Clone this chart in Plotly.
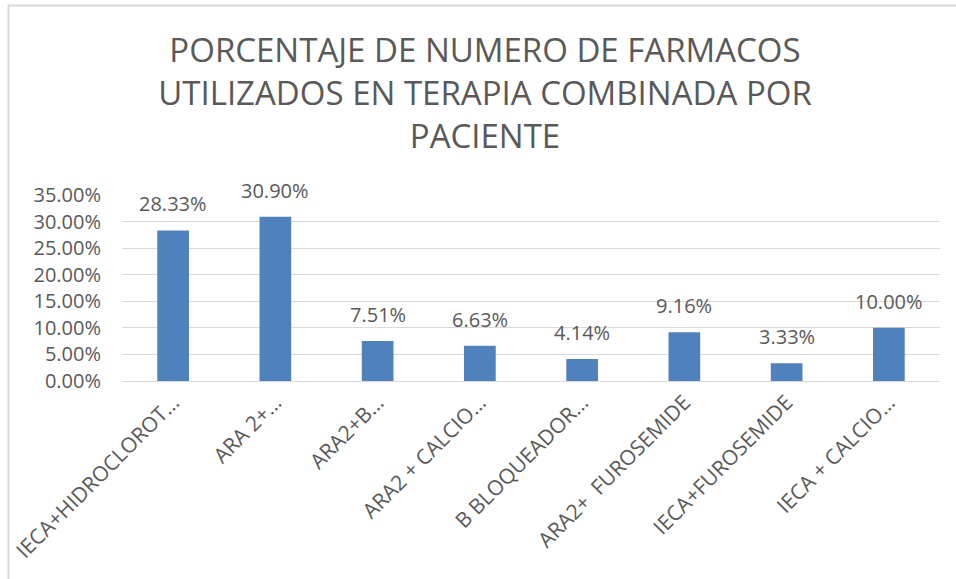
import plotly.graph_objects as go

categories = [
    "IECA+HIDROCLOROT…",
    "ARA 2+…",
    "ARA2+B…",
    "ARA2 + CALCIO…",
    "B BLOQUEADOR…",
    "ARA2+\u00a0 FUROSEMIDE",
    "IECA+FUROSEMIDE",
    "IECA + CALCIO…",
]
values = [0.2833, 0.3090, 0.0751, 0.0663, 0.0414, 0.0916, 0.0333, 0.1000]
y_ticks = [0, 0.05, 0.10, 0.15, 0.20, 0.25, 0.30, 0.35]
title_lines = [
    "PORCENTAJE DE NUMERO DE FARMACOS",
    "UTILIZADOS EN TERAPIA COMBINADA POR",
    "PACIENTE",
]

W, H = 956, 579
L, R, T, B = 122, 16, 195, 198
pw, ph = W - L - R, H - T - B

def px_x(p):
    return (p - L) / pw

def px_y(p):
    return (H - B - p) / ph

font_family = "Open Sans, Noto Sans, sans-serif"
txt_color = "#595959"

fig = go.Figure(
    go.Bar(
        x=categories,
        y=values,
        marker=dict(color="#4F81BD", line=dict(color="#4F81BD", width=0)),
        cliponaxis=False,
    )
)

for c, v in zip(categories, values):
    fig.add_annotation(
        x=c,
        y=v,
        xref="x",
        yref="y",
        text=f"{v:.2%}",
        showarrow=False,
        yanchor="bottom",
        yshift=11,
        font=dict(size=20, color=txt_color, family=font_family),
    )

fig.update_layout(
    width=W,
    height=H,
    margin=dict(l=L, r=R, t=T, b=B, autoexpand=False),
    paper_bgcolor="white",
    plot_bgcolor="white",
    bargap=0.69,
    showlegend=False,
    font=dict(family=font_family, color=txt_color),
    title=dict(
        text="<br>".join(title_lines),
        x=485 / W,
        xanchor="center",
        xref="container",
        y=1 - 62 / H,
        yanchor="top",
        yref="container",
        font=dict(size=33, color=txt_color, family=font_family),
    ),
    xaxis=dict(
        tickangle=-45,
        tickfont=dict(size=21, color=txt_color),
        showline=True,
        linecolor="#D9D9D9",
        linewidth=1,
        ticks="",
        range=[-0.5, 7.5],
    ),
    yaxis=dict(
        range=[0, 0.35],
        tickvals=y_ticks,
        tickformat=".2%",
        tickfont=dict(size=20, color=txt_color),
        showgrid=True,
        gridcolor="#D9D9D9",
        gridwidth=1,
        zeroline=False,
        showline=False,
        ticks="",
        ticklabelstandoff=20,
    ),
    shapes=[
        dict(
            type="rect",
            xref="paper",
            yref="paper",
            x0=px_x(8.5),
            x1=px_x(W + 10),
            y0=px_y(H + 10),
            y1=px_y(5.5),
            line=dict(color="#D9D9D9", width=2),
            fillcolor="rgba(0,0,0,0)",
            layer="below",
        )
    ],
)

fig.write_html(
    "out.html",
    config={"displayModeBar": False},
    post_script="document.body.style.margin='0';document.body.style.overflow='hidden';",
)
